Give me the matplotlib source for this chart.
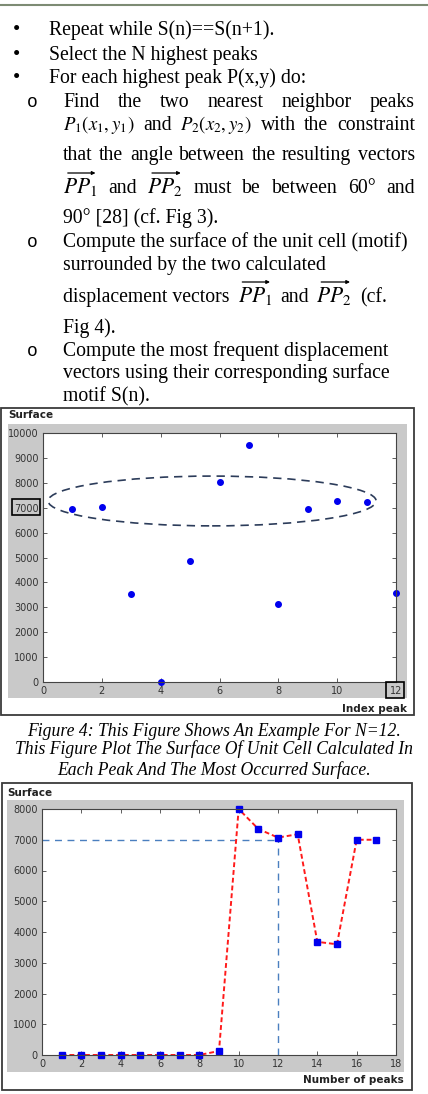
import matplotlib
matplotlib.use("Agg")
import matplotlib.pyplot as plt
from matplotlib.patches import Rectangle, Ellipse, FancyArrowPatch
from matplotlib.lines import Line2D

W, H = 428, 1094

# chart 1: surface of unit cell for each of the N=12 peaks
peak_index = [1, 2, 3, 4, 5, 6, 7, 8, 9, 10, 11, 12]
peak_surface = [6950, 7040, 3520, 0, 4860, 8050, 9520, 3150, 6950, 7280, 7220, 3590]

# chart 2: most occurred surface vs number of peaks
n_peaks = [1, 2, 3, 4, 5, 6, 7, 8, 9, 10, 11, 12, 13, 14, 15, 16, 17]
surface_by_n = [0, 0, 0, 0, 0, 0, 0, 0, 130, 8000, 7350, 7070, 7180, 3680, 3600, 7000, 7000]
most_surface = 7000
chosen_n = 12

plt.rcParams["mathtext.fontset"] = "stix"

fig = plt.figure(figsize=(W / 100, H / 100), dpi=100)
renderer = fig.canvas.get_renderer()


def fx(x):
    return x / W


def fy(y):
    return 1 - y / H


def rect(x0, y0, x1, y1):
    return [x0 / W, 1 - y1 / H, (x1 - x0) / W, (y1 - y0) / H]


def box(x0, y0, x1, y1, **kw):
    r = Rectangle((fx(x0), fy(y1)), (x1 - x0) / W, (y1 - y0) / H,
                  transform=fig.transFigure, **kw)
    fig.add_artist(r)
    return r


body = dict(family="Liberation Serif", fontsize=14.2, color="black", va="baseline")


def words(x0, y, parts, x1=None, gap=5, msize=15.5):
    texts = []
    for p in parts:
        if p.startswith("$"):
            texts.append(fig.text(0, fy(y), p, fontsize=msize, color="black", va="baseline"))
        else:
            texts.append(fig.text(0, fy(y), p, **body))
    widths = [t.get_window_extent(renderer).width for t in texts]
    if x1 is not None and len(parts) > 1:
        gap = (x1 - x0 - sum(widths)) / (len(parts) - 1)
    x = x0
    for t, w in zip(texts, widths):
        t.set_x(fx(x))
        x += w + gap
    return texts


def arrow_over(t):
    bb = t.get_window_extent(renderer)
    yv = bb.y1 + 3
    a = FancyArrowPatch((bb.x0 + 2, yv), (bb.x1 + 1, yv), transform=None,
                        arrowstyle="-|>", mutation_scale=5, lw=0.9, color="black")
    fig.add_artist(a)


def bullet(y, sub=False):
    if sub:
        fig.text(fx(32), fy(y), "o", ha="center", va="baseline",
                 family="Liberation Mono", fontsize=13, color="black")
    else:
        fig.text(fx(17), fy(y), "\u2022", ha="center", va="baseline",
                 family="Liberation Serif", fontsize=15, color="black")


# header rule
fig.add_artist(Line2D([0, 1], [fy(5), fy(5)], transform=fig.transFigure, color="#7d8b74", lw=1.5))

# body text
bullet(35); words(49, 35, ["Repeat while S(n)==S(n+1)."])
bullet(60); words(49, 60, ["Select the N highest peaks"])
bullet(83); words(49, 83, ["For each highest peak P(x,y) do:"])
bullet(107, True)
words(63, 107, "Find the two nearest neighbor peaks".split(), x1=415)
words(63, 130, [r"$P_1(x_1,y_1)$", "and", r"$P_2(x_2,y_2)$", "with", "the", "constraint"],
      x1=415, msize=13.5)
words(63, 160, "that the angle between the resulting vectors".split(), x1=415)
t = words(63, 193, [r"$PP_1$", "and", r"$PP_2$", "must", "be", "between", "60\u00b0", "and"], x1=415)
arrow_over(t[0]); arrow_over(t[2])
words(63, 223, ["90\u00b0 [28] (cf. Fig 3)."])
bullet(247, True); words(63, 247, ["Compute the surface of the unit cell (motif)"])
words(63, 270, ["surrounded by the two calculated"])
t = words(63, 302, ["displacement vectors", r"$PP_1$", "and", r"$PP_2$", "(cf."], gap=8)
arrow_over(t[1]); arrow_over(t[3])
words(63, 333, ["Fig 4)."])
bullet(356, True); words(63, 356, ["Compute the most frequent displacement"])
words(63, 378, ["vectors using their corresponding surface"])
words(63, 401, ["motif S(n)."])

tick_kw = dict(direction="in", length=3, width=0.6, top=True, right=True,
               labelsize=7, labelcolor="#333333", color="#444444", pad=3)
label_kw = dict(family="DejaVu Sans", fontweight="bold", fontsize=7.5, color="#222222", va="baseline")

# ---------- chart 1 ----------
box(1, 408, 414, 715, fill=False, edgecolor="#3a3a3a", lw=1.3, zorder=-1)
box(8, 424, 407, 698, facecolor="#c9c9c9", edgecolor="none", zorder=-2)
ax1 = fig.add_axes(rect(43, 433, 396, 682))
ax1.plot(peak_index, peak_surface, "o", color="#0000ee", ms=4, clip_on=False)
ax1.add_patch(Ellipse((5.75, 7270), 11.15, 2000, fill=False, ls=(0, (5, 3.5)),
                      lw=1.2, edgecolor="#2c3c5a"))
ax1.set_xlim(0, 12)
ax1.set_ylim(0, 10000)
ax1.set_xticks(range(0, 13, 2))
ax1.set_yticks(range(0, 10001, 1000))
ax1.tick_params(**tick_kw)
for s in ax1.spines.values():
    s.set_color("#444444")
    s.set_linewidth(0.8)
fig.text(fx(8), fy(418), "Surface", **label_kw)
fig.text(fx(407), fy(712), "Index peak", ha="right", **label_kw)
box(12, 499, 40, 515, fill=False, edgecolor="black", lw=1.2, zorder=5)
box(386, 682, 404, 698, fill=False, edgecolor="black", lw=1.2, zorder=5)

# captions
cap = dict(family="Liberation Serif", style="italic", fontsize=12.7, ha="center", va="baseline")
fig.text(fx(214), fy(736), "Figure 4: This Figure Shows An Example For N=12.", **cap)
fig.text(fx(214), fy(754), "This Figure Plot The Surface Of Unit Cell Calculated In", **cap)
fig.text(fx(214), fy(775), "Each Peak And The Most Occurred Surface.", **cap)

# ---------- chart 2 ----------
box(2, 783, 412, 1090, fill=False, edgecolor="#3a3a3a", lw=1.3, zorder=-1)
box(7, 800, 404, 1072, facecolor="#c9c9c9", edgecolor="none", zorder=-2)
ax2 = fig.add_axes(rect(42, 809, 396, 1055))
ax2.plot([0, chosen_n], [most_surface, most_surface], color="#4a7fbf", lw=1, ls=(0, (5, 4)))
ax2.plot([chosen_n, chosen_n], [0, most_surface], color="#4a7fbf", lw=1, ls=(0, (5, 4)))
ax2.plot(n_peaks, surface_by_n, color="#ff1a1a", lw=1.4, ls=(0, (2.5, 1.5)),
         marker="s", ms=4.2, mfc="#0000ee", mec="#0000ee", clip_on=False)
ax2.set_xlim(0, 18)
ax2.set_ylim(0, 8000)
ax2.set_xticks(range(0, 19, 2))
ax2.set_yticks(range(0, 8001, 1000))
ax2.tick_params(**tick_kw)
for s in ax2.spines.values():
    s.set_color("#444444")
    s.set_linewidth(0.8)
fig.text(fx(7), fy(796), "Surface", **label_kw)
fig.text(fx(404), fy(1083), "Number of peaks", ha="right", **label_kw)

fig.savefig("out.png", dpi=100, facecolor="white")
